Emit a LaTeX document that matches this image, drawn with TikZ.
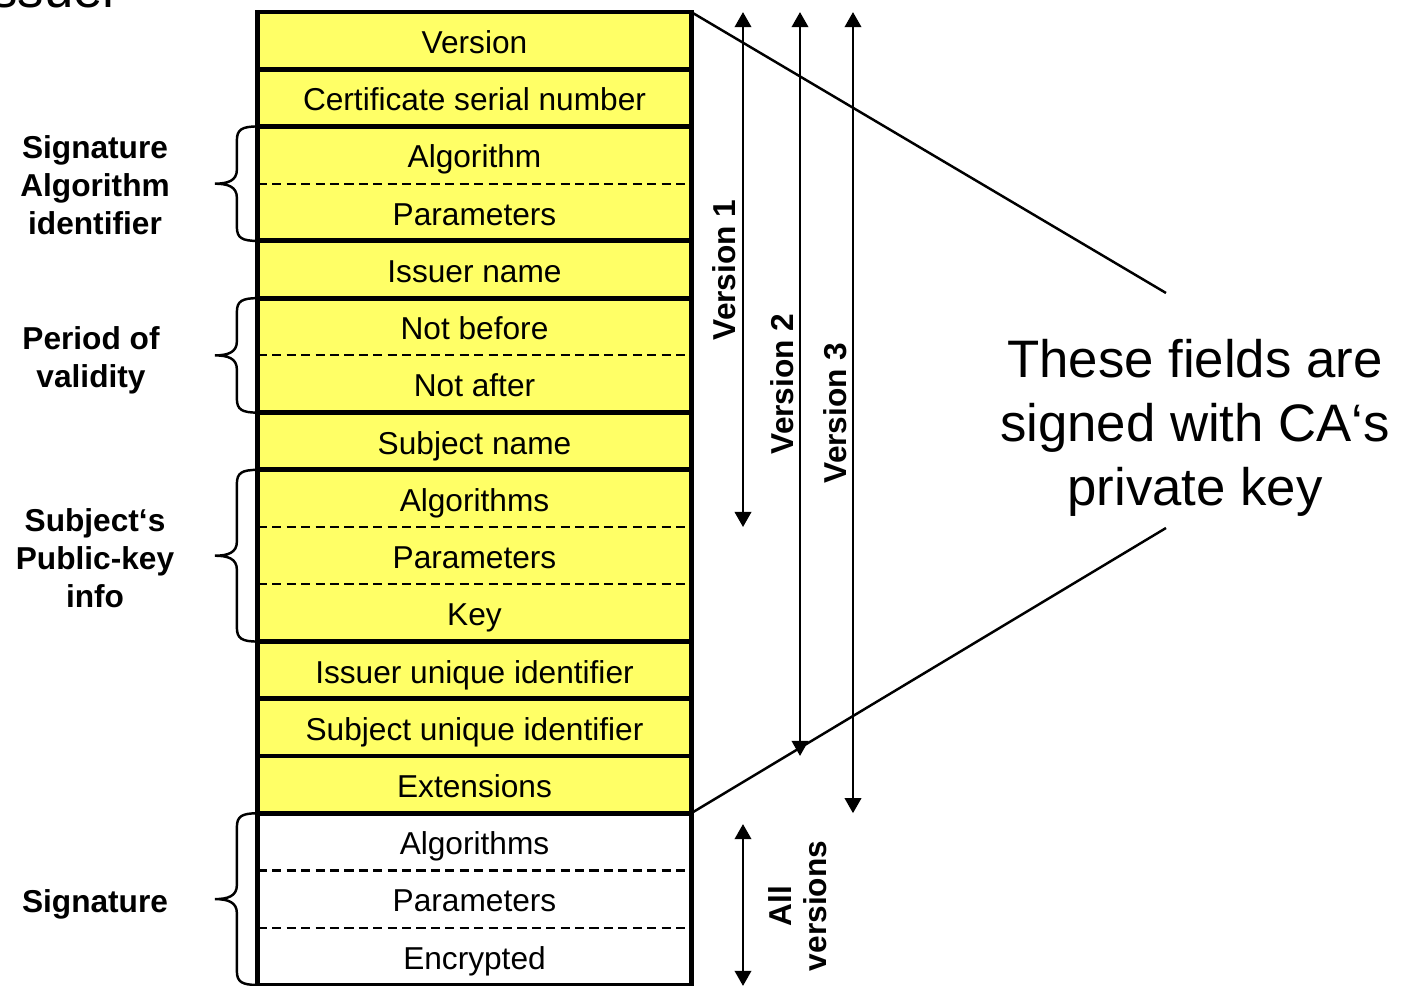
\documentclass[tikz,border=0pt]{standalone}
\usepackage{fontspec}
\setmainfont{Liberation Sans}
\usetikzlibrary{calc,positioning,arrows.meta}
\definecolor{fieldyellow}{RGB}{255,255,102}

% curly brace on the left of a group of fields, from the top of #1 to the bottom of #2
\newcommand\sidebrace[2]{%
  \coordinate (bt) at (#1.north west);
  \coordinate (bb) at (#2.south west);
  \coordinate (bm) at ($(bt)!0.5!(bb)$);
  \draw[bracestyle] (bt)
    .. controls ($(bt)+(-16,0)$) and ($(bt)+(-21,3)$) .. ($(bt)+(-21,14)$)
    -- ($(bm)+(-21,-14)$)
    .. controls ($(bm)+(-21,-3)$) and ($(bm)+(-30,0)$) .. ($(bm)+(-43,0)$)
    .. controls ($(bm)+(-30,0)$) and ($(bm)+(-21,3)$) .. ($(bm)+(-21,14)$)
    -- ($(bb)+(-21,-14)$)
    .. controls ($(bb)+(-21,-3)$) and ($(bb)+(-16,0)$) .. (bb);%
}

\begin{document}
\begin{tikzpicture}[x=0.01cm,y=-0.01cm,
  field/.style={fill=fieldyellow,minimum width=4.33cm,minimum height=0.572cm,
    inner sep=0pt,outer sep=0pt,text height=7.3pt,text depth=0pt,
    font=\fontsize{9}{10.8}\selectfont},
  sigfield/.style={field,fill=white},
  colframe/.style={line width=1.4pt},
  dashsplit/.style={line width=0.6pt,dash pattern=on 2.6pt off 1.5pt},
  bracestyle/.style={line width=0.7pt},
  grouplabel/.style={align=center,font=\fontsize{9}{10.8}\selectfont\bfseries},
  spanlabel/.style={rotate=90,align=center,font=\fontsize{9}{10}\selectfont\bfseries},
  rangearrow/.style={line width=0.85pt,
    {Triangle[length=4.3pt,width=4.6pt]}-{Triangle[length=4.3pt,width=4.6pt]}},
  leadline/.style={line width=0.7pt}]

\clip (0,0) rectangle (1402,986);

% title line cut off at the top edge
\node[font=\fontsize{15}{18}\selectfont,anchor=base west,inner sep=0pt] (cut) at (-24,8) {Issuer};

% certificate fields
\node[field,anchor=north] (version) at (474.5,12) {Version};
\node[field,below=0pt of version] (serial) {Certificate serial number};
\node[field,below=0pt of serial] (salg) {Algorithm};
\node[field,below=0pt of salg] (spar) {Parameters};
\node[field,below=0pt of spar] (issuer) {Issuer name};
\node[field,below=0pt of issuer] (nbefore) {Not before};
\node[field,below=0pt of nbefore] (nafter) {Not after};
\node[field,below=0pt of nafter] (subject) {Subject name};
\node[field,below=0pt of subject] (pkalg) {Algorithms};
\node[field,below=0pt of pkalg] (pkpar) {Parameters};
\node[field,below=0pt of pkpar] (pkkey) {Key};
\node[field,below=0pt of pkkey] (issid) {Issuer unique identifier};
\node[field,below=0pt of issid] (subjid) {Subject unique identifier};
\node[field,below=0pt of subjid] (ext) {Extensions};
\node[sigfield,below=0pt of ext] (sigalg) {Algorithms};
\node[sigfield,below=0pt of sigalg] (sigpar) {Parameters};
\node[sigfield,below=0pt of sigpar] (sigenc) {Encrypted};

% separators inside groups
\foreach \f in {salg,nbefore,pkalg,pkpar,sigalg,sigpar}
  \draw[dashsplit] (\f.south west) -- (\f.south east);
% separators between fields
\foreach \f in {version,serial,spar,issuer,nafter,subject,pkkey,issid,subjid,ext}
  \draw[colframe] (\f.south west) -- (\f.south east);
% outer frame
\draw[colframe] (version.north west) rectangle (sigenc.south east);

% group braces and their labels
\sidebrace{salg}{spar}
\sidebrace{nbefore}{nafter}
\sidebrace{pkalg}{pkkey}
\sidebrace{sigalg}{sigenc}
\node[grouplabel] (lsalg) at (95,185) {Signature\\Algorithm\\identifier};
\node[grouplabel] (lvalid) at (91,360) {Period of\\validity};
\node[grouplabel] (lpk) at (95,558) {Subject‘s\\Public-key\\info};
\node[grouplabel] (lsig) at (95,904) {Signature};

% version ranges
\coordinate (a1) at (743,0);
\coordinate (a2) at (800,0);
\coordinate (a3) at (853,0);
\draw[rangearrow] (a1 |- version.north) -- (a1 |- pkalg.south);
\draw[rangearrow] (a2 |- version.north) -- (a2 |- subjid.south);
\draw[rangearrow] (a3 |- version.north) -- (a3 |- ext.south);
\coordinate (allt) at (743,824);
\coordinate (allb) at (743,986);
\draw[rangearrow] (allt) -- (allb);
\node[spanlabel] (lv1) at (724,270) {Version 1};
\node[spanlabel] (lv2) at (782,384) {Version 2};
\node[spanlabel] (lv3) at (835,413) {Version 3};
\node[spanlabel] (lall) at (798,906) {All\\versions};

% signed part
\node[font=\fontsize{15}{18.2}\selectfont,align=center] (note) at (1195,428)
  {These fields are\\signed with CA‘s\\private key};
\coordinate (ntop) at (1166,293);
\coordinate (nbot) at (1166,528);
\draw[leadline] (version.north east) -- (ntop);
\draw[leadline] (ext.south east) -- (nbot);
\end{tikzpicture}
\end{document}
